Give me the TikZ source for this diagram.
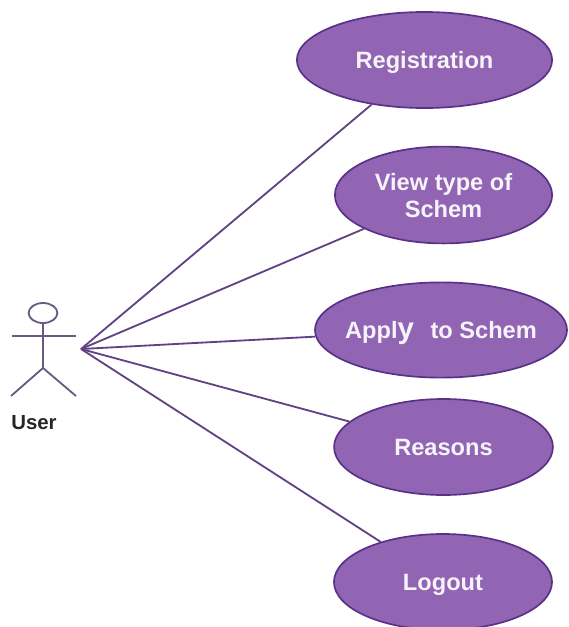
\documentclass[tikz,border=0pt]{standalone}
\usepackage{fontspec}
\setmainfont{Liberation Sans}
\usepackage{tikz}
\usetikzlibrary{shapes.geometric}
\definecolor{casefill}{HTML}{9164B4}
\definecolor{caseline}{HTML}{5A3285}
\definecolor{actorline}{HTML}{6A5A80}
\tikzset{
  usecase/.style={ellipse,draw=caseline,fill=casefill,line width=1.2pt,inner sep=0pt,align=center,text=white!92!casefill,text depth=0pt,font=\bfseries\fontsize{16.8}{19.2}\selectfont},
  link/.style={draw=caseline!80!gray,line width=1.3pt},
  limb/.style={draw=actorline,line width=1.3pt}
}
\begin{document}
\begin{tikzpicture}[x=0.025cm,y=-0.025cm]
      \useasboundingbox (0,0) rectangle (568,627);

      \node[usecase,minimum width=6.38cm,minimum height=2.4cm] (reg) at (424.5,60){Registration};
      \node[usecase,minimum width=5.43cm,minimum height=2.42cm] (view) at (443.5,195){View type of\\Schem};
      \node[usecase,minimum width=6.3cm,minimum height=2.38cm] (apply) at (441,330){\makebox[0pt]{Appl{\fontsize{21}{24}\selectfont y}\hspace{0.25cm} to Schem}};
      \node[usecase,minimum width=5.47cm,minimum height=2.4cm] (reasons) at (443.5,447){Reasons};
      \node[usecase,minimum width=5.45cm,minimum height=2.4cm] (logout) at (443,582){Logout};

      \coordinate (hub) at (81,349);
      \draw[link] (hub) -- (reg);
      \draw[link] (hub) -- (view);
      \draw[link] (hub) -- (apply);
      \draw[link] (hub) -- (reasons);
      \draw[link] (hub) -- (logout);

      % stick figure
      \node[ellipse,draw=actorline,line width=1.3pt,minimum width=0.72cm,minimum height=0.5cm,inner sep=0pt] (head) at (43,313){};
      \coordinate (hip) at (43,368);
      \coordinate (handl) at (12,336);
      \coordinate (handr) at (76,336);
      \coordinate (footl) at (11,396);
      \coordinate (footr) at (76,396);
      \draw[limb] (head) -- (hip);
      \draw[limb] (handl) -- (handr);
      \draw[limb] (footl) -- (hip) -- (footr);
      \node[font=\bfseries\fontsize{14.5}{18}\selectfont,text=black!85] (user) at (34,423){User};

    \end{tikzpicture}
\end{document}
